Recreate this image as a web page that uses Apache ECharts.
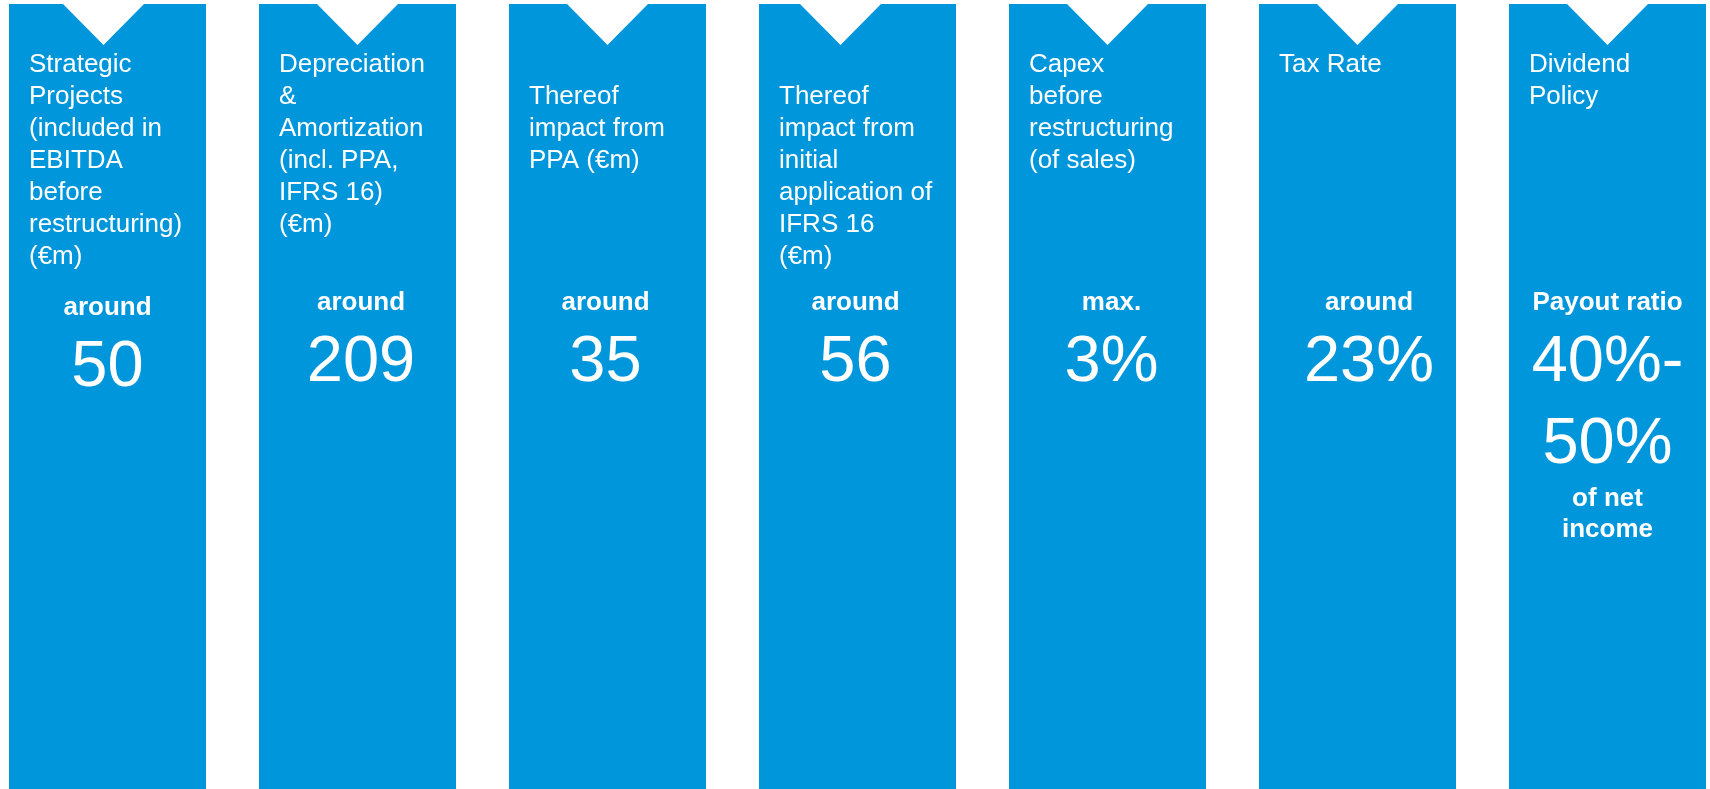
<!DOCTYPE html>
<html>
<head>
<meta charset="utf-8">
<script src="https://cdn.jsdelivr.net/npm/echarts@6/dist/echarts.min.js"></script>
<style>
html,body{margin:0;padding:0;background:#fff;}
#chart{width:1710px;height:789px;}
</style>
</head>
<body>
<div id="chart"></div>
<script>
// ---- data ----
var categories = [
  "Strategic\nProjects\n(included in\nEBITDA\nbefore\nrestructuring)\n(€m)",
  "Depreciation\n&\nAmortization\n(incl. PPA,\nIFRS 16)\n(€m)",
  "\nThereof\nimpact from\nPPA (€m)",
  "\nThereof\nimpact from\ninitial\napplication of\nIFRS 16\n(€m)",
  "Capex\nbefore\nrestructuring\n(of sales)",
  "Tax Rate",
  "Dividend\nPolicy"
];
var qualifiers = ["around", "around", "around", "around", "max.", "around", "Payout ratio"];
var values = [50, 209, 35, 56, 3, 23, 40];
var valuesHigh = [null, null, null, null, null, null, 50];
var units = ["", "", "", "", "%", "%", "%"];
var footnotes = ["", "", "", "", "", "", "of net\nincome"];

// ---- layout / style ----
var BLUE = "#0096db";
var FONT = "'Liberation Sans', Arial, Helvetica, sans-serif";
var NOTCH_DX = [-4, 0, 0, -17, 0, 0, 0];
var VALUE_DX = [0, 3.5, -2, -2, 4, 11.5, 0];
var VALUE_DY = [5, 0, 0, 0, 0, 0, 0];

var seriesData = categories.map(function (c, i) { return [i, 1]; });

var chart = echarts.init(document.getElementById('chart'), null, {renderer: 'canvas'});

function renderItem(params, api) {
  var i = api.value(0);
  var topPt = api.coord([i, 1]);
  var botPt = api.coord([i, 0]);
  var w = api.size([0.788, 0])[0];
  var cx = topPt[0];
  var top = topPt[1];
  var bottom = botPt[1];
  var left = cx - w / 2;
  var right = cx + w / 2;
  var nc = cx + NOTCH_DX[i];
  var nh = 40.5, nd = 41;
  var children = [];
  children.push({
    type: 'polygon',
    shape: {points: [[left, top], [nc - nh, top], [nc, top + nd], [nc + nh, top], [right, top], [right, bottom], [left, bottom]]},
    style: {fill: BLUE}
  });
  children.push({
    type: 'text',
    style: {
      text: categories[i], x: left + 20, y: top + 45,
      fill: '#fff', fontSize: 26, fontFamily: FONT, lineHeight: 32,
      align: 'left', verticalAlign: 'top'
    }
  });
  var vx = cx + VALUE_DX[i];
  var dy = VALUE_DY[i];
  children.push({
    type: 'text',
    style: {
      text: qualifiers[i], x: vx, y: top + 299 + dy,
      fill: '#fff', fontSize: 26, fontWeight: 'bold', fontFamily: FONT,
      align: 'center', verticalAlign: 'middle'
    }
  });
  var v1 = values[i] + units[i] + (valuesHigh[i] != null ? '-' : '');
  children.push({
    type: 'text',
    style: {
      text: v1, x: vx, y: top + 359 + dy,
      fill: '#fff', fontSize: 65, fontFamily: FONT,
      align: 'center', verticalAlign: 'middle'
    }
  });
  if (valuesHigh[i] != null) {
    children.push({
      type: 'text',
      style: {
        text: valuesHigh[i] + units[i], x: vx, y: top + 441 + dy,
        fill: '#fff', fontSize: 65, fontFamily: FONT,
        align: 'center', verticalAlign: 'middle'
      }
    });
  }
  if (footnotes[i]) {
    children.push({
      type: 'text',
      style: {
        text: footnotes[i], x: vx, y: top + 510.5 + dy,
        fill: '#fff', fontSize: 26, fontWeight: 'bold', fontFamily: FONT, lineHeight: 31,
        align: 'center', verticalAlign: 'middle'
      }
    });
  }
  return {type: 'group', children: children};
}

chart.setOption({
  animation: false,
  backgroundColor: '#ffffff',
  grid: {left: 0, right: 0, top: 4, bottom: 0},
  xAxis: {type: 'value', min: -0.43, max: 6.41, show: false},
  yAxis: {type: 'value', min: 0, max: 1, show: false},
  series: [{
    type: 'custom',
    renderItem: renderItem,
    data: seriesData,
    clip: false
  }]
});
</script>
</body>
</html>
